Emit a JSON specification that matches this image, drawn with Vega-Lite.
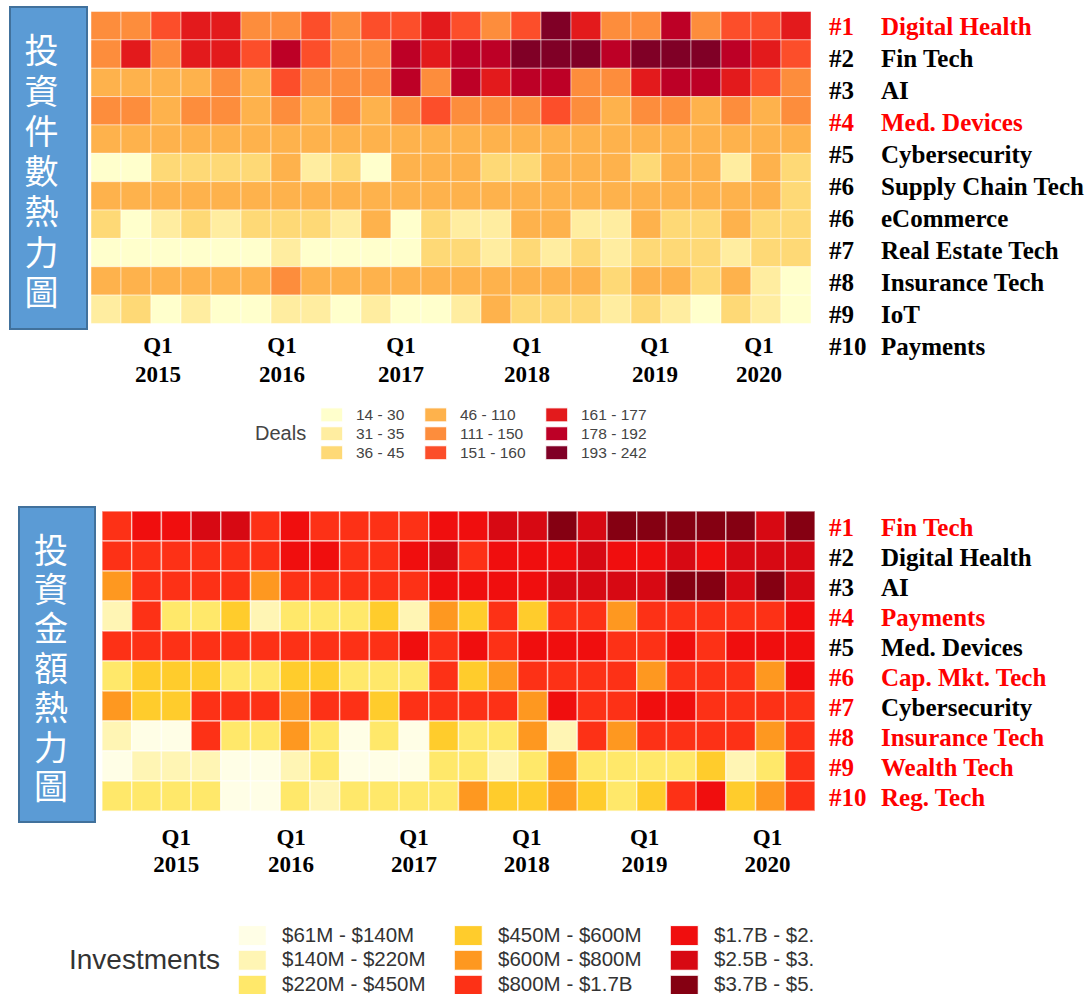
{
"$schema": "https://vega.github.io/schema/vega-lite/v6.json",
"background": "white",
"padding": {"left": 9, "top": 6, "right": 0, "bottom": 0},
"config": {"view": {"stroke": null}, "axis": {"domain": false, "ticks": false, "grid": false}},
"datasets": {
"deals": [
{"r":0,"q":0,"d":4},{"r":0,"q":1,"d":4},{"r":0,"q":2,"d":5},{"r":0,"q":3,"d":6},{"r":0,"q":4,"d":6},{"r":0,"q":5,"d":4},{"r":0,"q":6,"d":4},{"r":0,"q":7,"d":5},{"r":0,"q":8,"d":4},{"r":0,"q":9,"d":5},{"r":0,"q":10,"d":5},{"r":0,"q":11,"d":6},{"r":0,"q":12,"d":5},{"r":0,"q":13,"d":4},{"r":0,"q":14,"d":5},{"r":0,"q":15,"d":8},{"r":0,"q":16,"d":6},{"r":0,"q":17,"d":4},{"r":0,"q":18,"d":4},{"r":0,"q":19,"d":7},{"r":0,"q":20,"d":4},{"r":0,"q":21,"d":5},{"r":0,"q":22,"d":5},{"r":0,"q":23,"d":6},
{"r":1,"q":0,"d":4},{"r":1,"q":1,"d":6},{"r":1,"q":2,"d":4},{"r":1,"q":3,"d":6},{"r":1,"q":4,"d":6},{"r":1,"q":5,"d":5},{"r":1,"q":6,"d":7},{"r":1,"q":7,"d":5},{"r":1,"q":8,"d":4},{"r":1,"q":9,"d":4},{"r":1,"q":10,"d":7},{"r":1,"q":11,"d":6},{"r":1,"q":12,"d":7},{"r":1,"q":13,"d":7},{"r":1,"q":14,"d":8},{"r":1,"q":15,"d":8},{"r":1,"q":16,"d":8},{"r":1,"q":17,"d":7},{"r":1,"q":18,"d":8},{"r":1,"q":19,"d":8},{"r":1,"q":20,"d":8},{"r":1,"q":21,"d":7},{"r":1,"q":22,"d":6},{"r":1,"q":23,"d":5},
{"r":2,"q":0,"d":3},{"r":2,"q":1,"d":3},{"r":2,"q":2,"d":3},{"r":2,"q":3,"d":3},{"r":2,"q":4,"d":4},{"r":2,"q":5,"d":3},{"r":2,"q":6,"d":5},{"r":2,"q":7,"d":4},{"r":2,"q":8,"d":4},{"r":2,"q":9,"d":4},{"r":2,"q":10,"d":7},{"r":2,"q":11,"d":4},{"r":2,"q":12,"d":7},{"r":2,"q":13,"d":6},{"r":2,"q":14,"d":7},{"r":2,"q":15,"d":7},{"r":2,"q":16,"d":4},{"r":2,"q":17,"d":4},{"r":2,"q":18,"d":6},{"r":2,"q":19,"d":7},{"r":2,"q":20,"d":7},{"r":2,"q":21,"d":6},{"r":2,"q":22,"d":5},{"r":2,"q":23,"d":4},
{"r":3,"q":0,"d":4},{"r":3,"q":1,"d":4},{"r":3,"q":2,"d":3},{"r":3,"q":3,"d":4},{"r":3,"q":4,"d":4},{"r":3,"q":5,"d":3},{"r":3,"q":6,"d":4},{"r":3,"q":7,"d":3},{"r":3,"q":8,"d":4},{"r":3,"q":9,"d":3},{"r":3,"q":10,"d":4},{"r":3,"q":11,"d":5},{"r":3,"q":12,"d":4},{"r":3,"q":13,"d":4},{"r":3,"q":14,"d":4},{"r":3,"q":15,"d":5},{"r":3,"q":16,"d":4},{"r":3,"q":17,"d":3},{"r":3,"q":18,"d":4},{"r":3,"q":19,"d":4},{"r":3,"q":20,"d":3},{"r":3,"q":21,"d":4},{"r":3,"q":22,"d":3},{"r":3,"q":23,"d":4},
{"r":4,"q":0,"d":3},{"r":4,"q":1,"d":3},{"r":4,"q":2,"d":3},{"r":4,"q":3,"d":3},{"r":4,"q":4,"d":3},{"r":4,"q":5,"d":3},{"r":4,"q":6,"d":3},{"r":4,"q":7,"d":3},{"r":4,"q":8,"d":3},{"r":4,"q":9,"d":3},{"r":4,"q":10,"d":3},{"r":4,"q":11,"d":3},{"r":4,"q":12,"d":3},{"r":4,"q":13,"d":3},{"r":4,"q":14,"d":3},{"r":4,"q":15,"d":3},{"r":4,"q":16,"d":3},{"r":4,"q":17,"d":3},{"r":4,"q":18,"d":3},{"r":4,"q":19,"d":3},{"r":4,"q":20,"d":3},{"r":4,"q":21,"d":3},{"r":4,"q":22,"d":3},{"r":4,"q":23,"d":3},
{"r":5,"q":0,"d":0},{"r":5,"q":1,"d":0},{"r":5,"q":2,"d":2},{"r":5,"q":3,"d":2},{"r":5,"q":4,"d":2},{"r":5,"q":5,"d":2},{"r":5,"q":6,"d":3},{"r":5,"q":7,"d":1},{"r":5,"q":8,"d":2},{"r":5,"q":9,"d":0},{"r":5,"q":10,"d":3},{"r":5,"q":11,"d":3},{"r":5,"q":12,"d":3},{"r":5,"q":13,"d":2},{"r":5,"q":14,"d":2},{"r":5,"q":15,"d":3},{"r":5,"q":16,"d":3},{"r":5,"q":17,"d":3},{"r":5,"q":18,"d":2},{"r":5,"q":19,"d":3},{"r":5,"q":20,"d":3},{"r":5,"q":21,"d":1},{"r":5,"q":22,"d":3},{"r":5,"q":23,"d":2},
{"r":6,"q":0,"d":3},{"r":6,"q":1,"d":3},{"r":6,"q":2,"d":3},{"r":6,"q":3,"d":3},{"r":6,"q":4,"d":3},{"r":6,"q":5,"d":3},{"r":6,"q":6,"d":3},{"r":6,"q":7,"d":3},{"r":6,"q":8,"d":3},{"r":6,"q":9,"d":3},{"r":6,"q":10,"d":3},{"r":6,"q":11,"d":3},{"r":6,"q":12,"d":3},{"r":6,"q":13,"d":3},{"r":6,"q":14,"d":3},{"r":6,"q":15,"d":3},{"r":6,"q":16,"d":3},{"r":6,"q":17,"d":3},{"r":6,"q":18,"d":3},{"r":6,"q":19,"d":3},{"r":6,"q":20,"d":3},{"r":6,"q":21,"d":3},{"r":6,"q":22,"d":3},{"r":6,"q":23,"d":2},
{"r":7,"q":0,"d":2},{"r":7,"q":1,"d":0},{"r":7,"q":2,"d":1},{"r":7,"q":3,"d":2},{"r":7,"q":4,"d":1},{"r":7,"q":5,"d":2},{"r":7,"q":6,"d":2},{"r":7,"q":7,"d":2},{"r":7,"q":8,"d":1},{"r":7,"q":9,"d":3},{"r":7,"q":10,"d":0},{"r":7,"q":11,"d":2},{"r":7,"q":12,"d":1},{"r":7,"q":13,"d":1},{"r":7,"q":14,"d":3},{"r":7,"q":15,"d":3},{"r":7,"q":16,"d":1},{"r":7,"q":17,"d":1},{"r":7,"q":18,"d":3},{"r":7,"q":19,"d":2},{"r":7,"q":20,"d":2},{"r":7,"q":21,"d":3},{"r":7,"q":22,"d":2},{"r":7,"q":23,"d":2},
{"r":8,"q":0,"d":0},{"r":8,"q":1,"d":0},{"r":8,"q":2,"d":0},{"r":8,"q":3,"d":0},{"r":8,"q":4,"d":0},{"r":8,"q":5,"d":0},{"r":8,"q":6,"d":1},{"r":8,"q":7,"d":0},{"r":8,"q":8,"d":0},{"r":8,"q":9,"d":0},{"r":8,"q":10,"d":0},{"r":8,"q":11,"d":2},{"r":8,"q":12,"d":2},{"r":8,"q":13,"d":1},{"r":8,"q":14,"d":2},{"r":8,"q":15,"d":1},{"r":8,"q":16,"d":2},{"r":8,"q":17,"d":1},{"r":8,"q":18,"d":2},{"r":8,"q":19,"d":2},{"r":8,"q":20,"d":2},{"r":8,"q":21,"d":1},{"r":8,"q":22,"d":2},{"r":8,"q":23,"d":2},
{"r":9,"q":0,"d":3},{"r":9,"q":1,"d":3},{"r":9,"q":2,"d":3},{"r":9,"q":3,"d":3},{"r":9,"q":4,"d":3},{"r":9,"q":5,"d":3},{"r":9,"q":6,"d":4},{"r":9,"q":7,"d":3},{"r":9,"q":8,"d":3},{"r":9,"q":9,"d":3},{"r":9,"q":10,"d":3},{"r":9,"q":11,"d":3},{"r":9,"q":12,"d":3},{"r":9,"q":13,"d":3},{"r":9,"q":14,"d":3},{"r":9,"q":15,"d":3},{"r":9,"q":16,"d":3},{"r":9,"q":17,"d":2},{"r":9,"q":18,"d":3},{"r":9,"q":19,"d":3},{"r":9,"q":20,"d":2},{"r":9,"q":21,"d":3},{"r":9,"q":22,"d":1},{"r":9,"q":23,"d":0},
{"r":10,"q":0,"d":1},{"r":10,"q":1,"d":2},{"r":10,"q":2,"d":0},{"r":10,"q":3,"d":1},{"r":10,"q":4,"d":0},{"r":10,"q":5,"d":0},{"r":10,"q":6,"d":1},{"r":10,"q":7,"d":1},{"r":10,"q":8,"d":0},{"r":10,"q":9,"d":1},{"r":10,"q":10,"d":0},{"r":10,"q":11,"d":0},{"r":10,"q":12,"d":1},{"r":10,"q":13,"d":3},{"r":10,"q":14,"d":2},{"r":10,"q":15,"d":2},{"r":10,"q":16,"d":2},{"r":10,"q":17,"d":1},{"r":10,"q":18,"d":2},{"r":10,"q":19,"d":1},{"r":10,"q":20,"d":0},{"r":10,"q":21,"d":2},{"r":10,"q":22,"d":1},{"r":10,"q":23,"d":0}
],
"inv": [
{"r":0,"q":0,"v":5},{"r":0,"q":1,"v":6},{"r":0,"q":2,"v":6},{"r":0,"q":3,"v":7},{"r":0,"q":4,"v":7},{"r":0,"q":5,"v":5},{"r":0,"q":6,"v":6},{"r":0,"q":7,"v":5},{"r":0,"q":8,"v":5},{"r":0,"q":9,"v":5},{"r":0,"q":10,"v":5},{"r":0,"q":11,"v":6},{"r":0,"q":12,"v":6},{"r":0,"q":13,"v":7},{"r":0,"q":14,"v":7},{"r":0,"q":15,"v":8},{"r":0,"q":16,"v":7},{"r":0,"q":17,"v":8},{"r":0,"q":18,"v":8},{"r":0,"q":19,"v":8},{"r":0,"q":20,"v":8},{"r":0,"q":21,"v":8},{"r":0,"q":22,"v":7},{"r":0,"q":23,"v":8},
{"r":1,"q":0,"v":5},{"r":1,"q":1,"v":5},{"r":1,"q":2,"v":5},{"r":1,"q":3,"v":5},{"r":1,"q":4,"v":5},{"r":1,"q":5,"v":5},{"r":1,"q":6,"v":6},{"r":1,"q":7,"v":6},{"r":1,"q":8,"v":5},{"r":1,"q":9,"v":5},{"r":1,"q":10,"v":6},{"r":1,"q":11,"v":7},{"r":1,"q":12,"v":5},{"r":1,"q":13,"v":6},{"r":1,"q":14,"v":6},{"r":1,"q":15,"v":6},{"r":1,"q":16,"v":7},{"r":1,"q":17,"v":6},{"r":1,"q":18,"v":6},{"r":1,"q":19,"v":7},{"r":1,"q":20,"v":6},{"r":1,"q":21,"v":7},{"r":1,"q":22,"v":7},{"r":1,"q":23,"v":7},
{"r":2,"q":0,"v":4},{"r":2,"q":1,"v":5},{"r":2,"q":2,"v":5},{"r":2,"q":3,"v":5},{"r":2,"q":4,"v":5},{"r":2,"q":5,"v":4},{"r":2,"q":6,"v":5},{"r":2,"q":7,"v":5},{"r":2,"q":8,"v":5},{"r":2,"q":9,"v":5},{"r":2,"q":10,"v":5},{"r":2,"q":11,"v":6},{"r":2,"q":12,"v":6},{"r":2,"q":13,"v":6},{"r":2,"q":14,"v":6},{"r":2,"q":15,"v":7},{"r":2,"q":16,"v":7},{"r":2,"q":17,"v":7},{"r":2,"q":18,"v":7},{"r":2,"q":19,"v":8},{"r":2,"q":20,"v":8},{"r":2,"q":21,"v":7},{"r":2,"q":22,"v":8},{"r":2,"q":23,"v":7},
{"r":3,"q":0,"v":1},{"r":3,"q":1,"v":5},{"r":3,"q":2,"v":2},{"r":3,"q":3,"v":2},{"r":3,"q":4,"v":3},{"r":3,"q":5,"v":1},{"r":3,"q":6,"v":2},{"r":3,"q":7,"v":2},{"r":3,"q":8,"v":2},{"r":3,"q":9,"v":3},{"r":3,"q":10,"v":1},{"r":3,"q":11,"v":4},{"r":3,"q":12,"v":3},{"r":3,"q":13,"v":5},{"r":3,"q":14,"v":3},{"r":3,"q":15,"v":5},{"r":3,"q":16,"v":5},{"r":3,"q":17,"v":4},{"r":3,"q":18,"v":5},{"r":3,"q":19,"v":5},{"r":3,"q":20,"v":5},{"r":3,"q":21,"v":5},{"r":3,"q":22,"v":5},{"r":3,"q":23,"v":6},
{"r":4,"q":0,"v":5},{"r":4,"q":1,"v":5},{"r":4,"q":2,"v":5},{"r":4,"q":3,"v":5},{"r":4,"q":4,"v":5},{"r":4,"q":5,"v":5},{"r":4,"q":6,"v":5},{"r":4,"q":7,"v":5},{"r":4,"q":8,"v":5},{"r":4,"q":9,"v":5},{"r":4,"q":10,"v":6},{"r":4,"q":11,"v":5},{"r":4,"q":12,"v":6},{"r":4,"q":13,"v":5},{"r":4,"q":14,"v":6},{"r":4,"q":15,"v":6},{"r":4,"q":16,"v":6},{"r":4,"q":17,"v":5},{"r":4,"q":18,"v":5},{"r":4,"q":19,"v":6},{"r":4,"q":20,"v":5},{"r":4,"q":21,"v":6},{"r":4,"q":22,"v":6},{"r":4,"q":23,"v":6},
{"r":5,"q":0,"v":2},{"r":5,"q":1,"v":3},{"r":5,"q":2,"v":3},{"r":5,"q":3,"v":3},{"r":5,"q":4,"v":2},{"r":5,"q":5,"v":2},{"r":5,"q":6,"v":3},{"r":5,"q":7,"v":3},{"r":5,"q":8,"v":2},{"r":5,"q":9,"v":2},{"r":5,"q":10,"v":2},{"r":5,"q":11,"v":5},{"r":5,"q":12,"v":3},{"r":5,"q":13,"v":4},{"r":5,"q":14,"v":5},{"r":5,"q":15,"v":5},{"r":5,"q":16,"v":5},{"r":5,"q":17,"v":5},{"r":5,"q":18,"v":4},{"r":5,"q":19,"v":5},{"r":5,"q":20,"v":5},{"r":5,"q":21,"v":5},{"r":5,"q":22,"v":4},{"r":5,"q":23,"v":6},
{"r":6,"q":0,"v":4},{"r":6,"q":1,"v":3},{"r":6,"q":2,"v":3},{"r":6,"q":3,"v":5},{"r":6,"q":4,"v":5},{"r":6,"q":5,"v":5},{"r":6,"q":6,"v":4},{"r":6,"q":7,"v":5},{"r":6,"q":8,"v":5},{"r":6,"q":9,"v":3},{"r":6,"q":10,"v":5},{"r":6,"q":11,"v":5},{"r":6,"q":12,"v":5},{"r":6,"q":13,"v":5},{"r":6,"q":14,"v":4},{"r":6,"q":15,"v":6},{"r":6,"q":16,"v":5},{"r":6,"q":17,"v":5},{"r":6,"q":18,"v":6},{"r":6,"q":19,"v":6},{"r":6,"q":20,"v":5},{"r":6,"q":21,"v":5},{"r":6,"q":22,"v":5},{"r":6,"q":23,"v":5},
{"r":7,"q":0,"v":1},{"r":7,"q":1,"v":0},{"r":7,"q":2,"v":0},{"r":7,"q":3,"v":5},{"r":7,"q":4,"v":2},{"r":7,"q":5,"v":2},{"r":7,"q":6,"v":4},{"r":7,"q":7,"v":2},{"r":7,"q":8,"v":0},{"r":7,"q":9,"v":2},{"r":7,"q":10,"v":0},{"r":7,"q":11,"v":3},{"r":7,"q":12,"v":2},{"r":7,"q":13,"v":2},{"r":7,"q":14,"v":4},{"r":7,"q":15,"v":1},{"r":7,"q":16,"v":5},{"r":7,"q":17,"v":4},{"r":7,"q":18,"v":5},{"r":7,"q":19,"v":5},{"r":7,"q":20,"v":5},{"r":7,"q":21,"v":5},{"r":7,"q":22,"v":4},{"r":7,"q":23,"v":5},
{"r":8,"q":0,"v":0},{"r":8,"q":1,"v":1},{"r":8,"q":2,"v":1},{"r":8,"q":3,"v":1},{"r":8,"q":4,"v":0},{"r":8,"q":5,"v":0},{"r":8,"q":6,"v":1},{"r":8,"q":7,"v":2},{"r":8,"q":8,"v":0},{"r":8,"q":9,"v":0},{"r":8,"q":10,"v":0},{"r":8,"q":11,"v":2},{"r":8,"q":12,"v":2},{"r":8,"q":13,"v":1},{"r":8,"q":14,"v":2},{"r":8,"q":15,"v":4},{"r":8,"q":16,"v":2},{"r":8,"q":17,"v":2},{"r":8,"q":18,"v":2},{"r":8,"q":19,"v":2},{"r":8,"q":20,"v":3},{"r":8,"q":21,"v":1},{"r":8,"q":22,"v":2},{"r":8,"q":23,"v":5},
{"r":9,"q":0,"v":2},{"r":9,"q":1,"v":2},{"r":9,"q":2,"v":2},{"r":9,"q":3,"v":2},{"r":9,"q":4,"v":0},{"r":9,"q":5,"v":0},{"r":9,"q":6,"v":2},{"r":9,"q":7,"v":1},{"r":9,"q":8,"v":2},{"r":9,"q":9,"v":2},{"r":9,"q":10,"v":2},{"r":9,"q":11,"v":2},{"r":9,"q":12,"v":4},{"r":9,"q":13,"v":3},{"r":9,"q":14,"v":3},{"r":9,"q":15,"v":4},{"r":9,"q":16,"v":3},{"r":9,"q":17,"v":2},{"r":9,"q":18,"v":3},{"r":9,"q":19,"v":5},{"r":9,"q":20,"v":6},{"r":9,"q":21,"v":3},{"r":9,"q":22,"v":4},{"r":9,"q":23,"v":5}
],
"lab1": [
{"i":0,"p":"r","t":"#1","red":1},{"i":0,"p":"n","t":"Digital Health","red":1},
{"i":1,"p":"r","t":"#2","red":0},{"i":1,"p":"n","t":"Fin Tech","red":0},
{"i":2,"p":"r","t":"#3","red":0},{"i":2,"p":"n","t":"AI","red":0},
{"i":3,"p":"r","t":"#4","red":1},{"i":3,"p":"n","t":"Med. Devices","red":1},
{"i":4,"p":"r","t":"#5","red":0},{"i":4,"p":"n","t":"Cybersecurity","red":0},
{"i":5,"p":"r","t":"#6","red":0},{"i":5,"p":"n","t":"Supply Chain Tech","red":0},
{"i":6,"p":"r","t":"#6","red":0},{"i":6,"p":"n","t":"eCommerce","red":0},
{"i":7,"p":"r","t":"#7","red":0},{"i":7,"p":"n","t":"Real Estate Tech","red":0},
{"i":8,"p":"r","t":"#8","red":0},{"i":8,"p":"n","t":"Insurance Tech","red":0},
{"i":9,"p":"r","t":"#9","red":0},{"i":9,"p":"n","t":"IoT","red":0},
{"i":10,"p":"r","t":"#10","red":0},{"i":10,"p":"n","t":"Payments","red":0}
],
"lab2": [
{"i":0,"p":"r","t":"#1","red":1},{"i":0,"p":"n","t":"Fin Tech","red":1},
{"i":1,"p":"r","t":"#2","red":0},{"i":1,"p":"n","t":"Digital Health","red":0},
{"i":2,"p":"r","t":"#3","red":0},{"i":2,"p":"n","t":"AI","red":0},
{"i":3,"p":"r","t":"#4","red":1},{"i":3,"p":"n","t":"Payments","red":1},
{"i":4,"p":"r","t":"#5","red":0},{"i":4,"p":"n","t":"Med. Devices","red":0},
{"i":5,"p":"r","t":"#6","red":1},{"i":5,"p":"n","t":"Cap. Mkt.  Tech","red":1},
{"i":6,"p":"r","t":"#7","red":1},{"i":6,"p":"n","t":"Cybersecurity","red":0},
{"i":7,"p":"r","t":"#8","red":1},{"i":7,"p":"n","t":"Insurance Tech","red":1},
{"i":8,"p":"r","t":"#9","red":1},{"i":8,"p":"n","t":"Wealth Tech","red":1},
{"i":9,"p":"r","t":"#10","red":1},{"i":9,"p":"n","t":"Reg. Tech","red":1}
]
},
"spacing": 44,
"resolve": {"scale": {"color": "independent", "x": "independent", "y": "independent"}, "legend": {"color": "independent"}},
"vconcat": [
{
"spacing": 4,
"bounds": "flush",
"resolve": {"scale": {"color": "independent", "x": "independent", "y": "independent"}},
"hconcat": [
{
"width": 77, "height": 322,
"view": {"fill": "#5b9bd5", "stroke": "#41719c", "strokeWidth": 2},
"data": {"values": [{"i":0,"ch":"投"},{"i":1,"ch":"資"},{"i":2,"ch":"件"},{"i":3,"ch":"數"},{"i":4,"ch":"熱"},{"i":5,"ch":"力"},{"i":6,"ch":"圖"}]},
"mark": {"type": "text", "font": "Noto Sans CJK TC", "fontSize": 34, "fill": "#ffffff", "dx": -7, "baseline": "middle"},
"encoding": {
"y": {"field": "i", "type": "ordinal", "axis": null, "scale": {"type": "point", "padding": 1.155, "align": 0.575}},
"text": {"field": "ch"}
}
},
{
"width": 720, "height": 322,
"data": {"name": "deals"},
"mark": {"type": "rect", "stroke": "#ffffff", "strokeWidth": 1, "strokeOpacity": 0.45},
"encoding": {
"x": {"field": "q", "type": "ordinal", "scale": {"paddingInner": 0, "paddingOuter": 0},
"axis": {"title": null, "values": [2,6,10,14,18,22], "labelExpr": "['Q1', '' + (2015 + (datum.value - 2) / 4)]", "labelAngle": 0, "labelFont": "Liberation Serif", "labelFontWeight": "bold", "labelFontSize": 23, "labelColor": "#000000", "labelBaseline": "top", "labelLineHeight": 29, "labelPadding": 5, "labelOverlap": false,
"labelOffset": {"condition": [{"test": "datum.value == 2", "value": -8}, {"test": "datum.value == 6", "value": -4}, {"test": "datum.value == 10", "value": -5}, {"test": "datum.value == 14", "value": 1}, {"test": "datum.value == 18", "value": 9}, {"test": "datum.value == 22", "value": -7}], "value": 0}}},
"y": {"field": "r", "type": "ordinal", "axis": null, "scale": {"paddingInner": 0, "paddingOuter": 0.177, "align": 0.45}},
"color": {"field": "d", "type": "ordinal",
"scale": {"domain": [0,1,2,3,4,5,6,7,8], "range": ["#ffffcc","#ffeda0","#fed976","#feb24c","#fd8d3c","#fc4e2a","#e31a1c","#bd0026","#800026"]},
"legend": {"orient": "none", "legendX": 164, "legendY": 400, "columns": 3, "padding": 0, "title": "Deals", "titleOrient": "left", "titleAnchor": "middle", "titleBaseline": "middle", "titleFont": "Liberation Sans", "titleFontSize": 20, "titleFontWeight": "normal", "titleColor": "#444444", "titlePadding": 17,
"labelExpr": "['14 - 30','31 - 35','36 - 45','46 - 110','111 - 150','151 - 160','161 - 177','178 - 192','193 - 242'][datum.value]",
"labelFont": "Liberation Sans", "labelFontSize": 15.5, "labelColor": "#444444", "labelOffset": 16.5, "labelLimit": 300,
"symbolType": "M-1.692,-1.077H1.692V1.077H-1.692Z", "symbolSize": 169, "symbolStrokeColor": "#ffffff", "symbolStrokeWidth": 1, "symbolOpacity": 1,
"columnPadding": 17, "rowPadding": 0}}
}
},
{
"width": 270, "height": 360,
"data": {"name": "lab1"},
"mark": {"type": "text", "font": "Liberation Serif", "fontWeight": "bold", "fontSize": 25, "align": "left", "baseline": "middle"},
"encoding": {
"x": {"field": "p", "type": "nominal", "axis": null, "scale": {"type": "point", "domain": ["r","n"], "range": [14, 66], "padding": 0}},
"y": {"field": "i", "type": "ordinal", "axis": null, "scale": {"type": "point", "padding": 0.625, "align": 0.5}},
"text": {"field": "t"},
"color": {"condition": {"test": "datum.red == 1", "value": "#ff0000"}, "value": "#000000"}
}
}
]
},
{
"spacing": 7,
"bounds": "flush",
"resolve": {"scale": {"color": "independent", "x": "independent", "y": "independent"}},
"hconcat": [
{
"width": 2, "height": 2,
"data": {"values": []},
"mark": "point",
"encoding": {}
},
{
"width": 76, "height": 315,
"view": {"fill": "#5b9bd5", "stroke": "#41719c", "strokeWidth": 2},
"data": {"values": [{"i":0,"ch":"投"},{"i":1,"ch":"資"},{"i":2,"ch":"金"},{"i":3,"ch":"額"},{"i":4,"ch":"熱"},{"i":5,"ch":"力"},{"i":6,"ch":"圖"}]},
"mark": {"type": "text", "font": "Noto Sans CJK TC", "fontSize": 34, "fill": "#ffffff", "dx": -6, "baseline": "middle"},
"encoding": {
"y": {"field": "i", "type": "ordinal", "axis": null, "scale": {"type": "point", "padding": 1.11, "align": 0.58}},
"text": {"field": "ch"}
}
},
{
"width": 713, "height": 315,
"data": {"name": "inv"},
"mark": {"type": "rect", "stroke": "#ffffff", "strokeWidth": 1.5, "strokeOpacity": 0.55},
"encoding": {
"x": {"field": "q", "type": "ordinal", "scale": {"paddingInner": 0, "paddingOuter": 0},
"axis": {"title": null, "values": [2,6,10,14,18,22], "labelExpr": "['Q1', '' + (2015 + (datum.value - 2) / 4)]", "labelAngle": 0, "labelFont": "Liberation Serif", "labelFontWeight": "bold", "labelFontSize": 23, "labelColor": "#000000", "labelBaseline": "top", "labelLineHeight": 27, "labelPadding": 4, "labelOverlap": false,
"labelOffset": {"condition": [{"test": "datum.value == 6", "value": -4}, {"test": "datum.value == 14", "value": -6}, {"test": "datum.value == 18", "value": -7}, {"test": "datum.value == 22", "value": -3}], "value": 0}}},
"y": {"field": "r", "type": "ordinal", "axis": null, "scale": {"paddingInner": 0, "paddingOuter": 0.25, "align": 0.27}},
"color": {"field": "v", "type": "ordinal",
"scale": {"domain": [0,1,2,3,4,5,6,7,8], "range": ["#fffee6","#fff5b4","#ffe86a","#ffcc2c","#fe9820","#fd3116","#f00e0e","#d70913","#850012"]},
"legend": {"orient": "none", "legendX": -33, "legendY": 418, "columns": 3, "padding": 0, "title": "Investments", "titleOrient": "left", "titleAnchor": "middle", "titleBaseline": "middle", "titleFont": "Liberation Sans", "titleFontSize": 28, "titleFontWeight": "normal", "titleColor": "#333333", "titlePadding": 22,
"labelExpr": "['$61M - $140M','$140M - $220M','$220M - $450M','$450M - $600M','$600M - $800M','$800M - $1.7B','$1.7B - $2.','$2.5B - $3.','$3.7B - $5.'][datum.value]",
"labelFont": "Liberation Sans", "labelFontSize": 20.5, "labelColor": "#333333", "labelOffset": 19.5, "labelLimit": 300,
"symbolType": "M-1.474,-1.053H1.474V1.053H-1.474Z", "symbolSize": 361, "symbolStrokeColor": "#ffffff", "symbolStrokeWidth": 1, "symbolOpacity": 1,
"columnPadding": 26, "rowPadding": 0}}
}
},
{
"width": 270, "height": 312,
"data": {"name": "lab2"},
"mark": {"type": "text", "font": "Liberation Serif", "fontWeight": "bold", "fontSize": 25, "align": "left", "baseline": "middle"},
"encoding": {
"x": {"field": "p", "type": "nominal", "axis": null, "scale": {"type": "point", "domain": ["r","n"], "range": [7, 59], "padding": 0}},
"y": {"field": "i", "type": "ordinal", "axis": null, "scale": {"type": "point", "padding": 0.7, "align": 0.5}},
"text": {"field": "t"},
"color": {"condition": {"test": "datum.red == 1", "value": "#ff0000"}, "value": "#000000"}
}
}
]
}
]
}
